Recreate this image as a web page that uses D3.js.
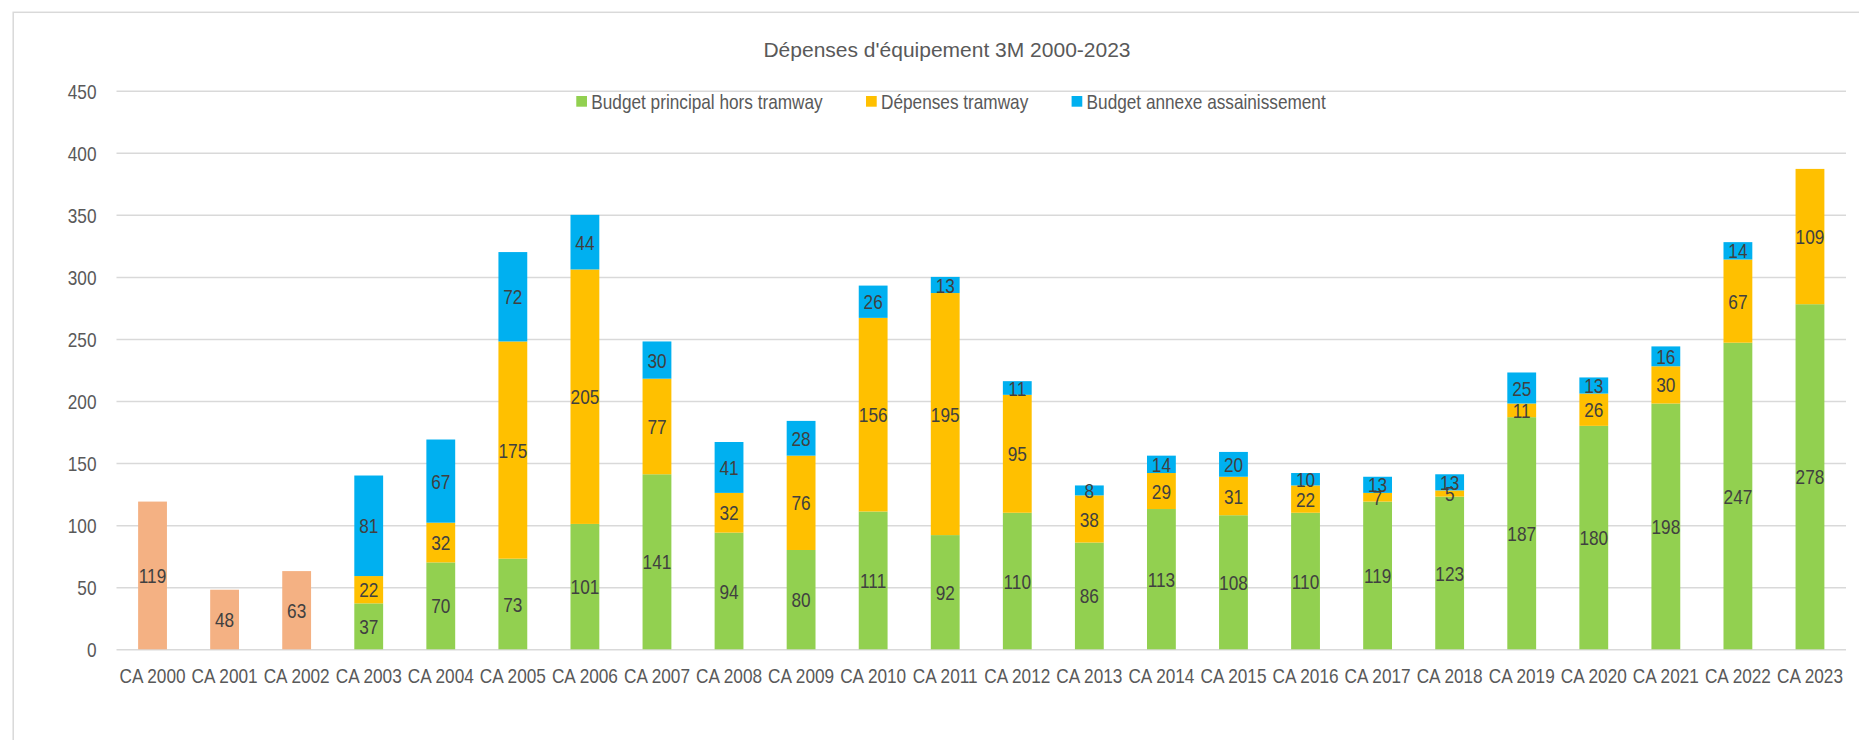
<!DOCTYPE html>
<html>
<head>
<meta charset="utf-8">
<script src="https://cdn.jsdelivr.net/npm/d3@7"></script>
<style>
html,body{margin:0;padding:0;background:#fff;}
svg{display:block;}
</style>
</head>
<body>
<svg id="chart" width="1859" height="740"></svg>
<script>
// ---------- DATA ----------
const categories = ["CA 2000","CA 2001","CA 2002","CA 2003","CA 2004","CA 2005","CA 2006","CA 2007","CA 2008","CA 2009","CA 2010","CA 2011","CA 2012","CA 2013","CA 2014","CA 2015","CA 2016","CA 2017","CA 2018","CA 2019","CA 2020","CA 2021","CA 2022","CA 2023"];
const budgetPrincipal = [null,null,null,37,70,73,101,141,94,80,111,92,110,86,113,108,110,119,123,187,180,198,247,278];
const depensesTramway = [null,null,null,22,32,175,205,77,32,76,156,195,95,38,29,31,22,7,5,11,26,30,67,109];
const budgetAssainissement = [null,null,null,81,67,72,44,30,41,28,26,13,11,8,14,20,10,13,13,25,13,16,14,null];
const totalAvant2003 = [119,48,63,null,null,null,null,null,null,null,null,null,null,null,null,null,null,null,null,null,null,null,null,null];
const seriesNames = ["Budget principal hors tramway","Dépenses tramway","Budget annexe assainissement"];
const yTicks = [0,50,100,150,200,250,300,350,400,450];
const title = "Dépenses d'équipement 3M 2000-2023";

// ---------- FONTS ----------
function hasFont(name){
  const ctx=document.createElement('canvas').getContext('2d');
  const s='CA 2000 Budget principal 0123456789';
  ctx.font='40px monospace'; const a=ctx.measureText(s).width;
  ctx.font=`40px "${name}", monospace`; const b=ctx.measureText(s).width;
  ctx.font='40px serif'; const c=ctx.measureText(s).width;
  ctx.font=`40px "${name}", serif`; const d=ctx.measureText(s).width;
  return a!==b || c!==d;
}
let NARROW, SX;
if (hasFont('Liberation Sans Narrow')) { NARROW='"Liberation Sans Narrow"'; SX=1; }
else if (hasFont('Arial Narrow')) { NARROW='"Arial Narrow"'; SX=1; }
else { NARROW='"Liberation Sans", Arial, sans-serif'; SX=0.82; }
const REG='"Liberation Sans", Arial, sans-serif';

function squeeze(sel){
  sel.each(function(){
    const t=d3.select(this);
    const x=+t.attr('x')||0, y=+t.attr('y')||0;
    t.attr('x',0).attr('y',0).attr('transform',`translate(${x},${y}) scale(${SX},1)`);
  });
}

// ---------- CHART ----------
const W=1859, H=740;
const svg=d3.select('#chart');
svg.append('rect').attr('x',0).attr('y',0).attr('width',W).attr('height',H).attr('fill','#fff');
// outer chart border (only top/left visible)
svg.append('rect').attr('x',13.2).attr('y',12.3).attr('width',W).attr('height',H)
  .attr('fill','none').attr('stroke','#d9d9d9').attr('stroke-width',1.5);

const plotL=116.5, plotR=1846, yTop=90.7, yBot=649.3;
const x=d3.scaleBand().domain(categories).range([plotL,plotR]).paddingInner(0.6).paddingOuter(0.3);
const y=d3.scaleLinear().domain([0,450]).range([yBot,yTop]);

// y axis with gridlines
const gy=svg.append('g').attr('transform',`translate(${plotL},0)`)
  .call(d3.axisLeft(y).tickValues(yTicks).tickSize(-(plotR-plotL)).tickPadding(20));
gy.select('.domain').remove();
gy.selectAll('.tick line').attr('stroke','#d9d9d9').attr('stroke-width',1.5);
gy.selectAll('.tick text').attr('fill','#595959').style('font-family',NARROW).style('font-size','21px')
  .attr('dy','0.36em');
squeeze(gy.selectAll('.tick text'));

// colors
const colors={principal:'#92D050',tramway:'#FFC000',assain:'#00B0F0',total:'#F4B183'};
const keys=['principal','tramway','assain','total'];
const rows=categories.map((c,i)=>({cat:c,principal:budgetPrincipal[i],tramway:depensesTramway[i],assain:budgetAssainissement[i],total:totalAvant2003[i]}));
const stack=d3.stack().keys(keys).value((d,k)=>d[k]==null?0:d[k]);
const stacked=stack(rows);

const layers=svg.append('g').selectAll('g').data(stacked).join('g').attr('fill',d=>colors[d.key]);
layers.selectAll('rect').data(d=>d.map(s=>({s,key:d.key})).filter(o=>o.s.data[o.key]!=null))
  .join('rect')
  .attr('x',o=>x(o.s.data.cat))
  .attr('width',x.bandwidth())
  .attr('y',o=>y(o.s[1]))
  .attr('height',o=>y(o.s[0])-y(o.s[1]));

// x axis line (0) drawn by gridline; category labels
const gx=svg.append('g').attr('transform',`translate(0,${yBot})`)
  .call(d3.axisBottom(x).tickSize(0).tickPadding(0));
gx.select('.domain').remove();
gx.selectAll('.tick text').attr('fill','#595959').style('font-family',NARROW).style('font-size','21px')
  .attr('y',33.4).attr('dy',0);
squeeze(gx.selectAll('.tick text'));

// data labels
const lab=svg.append('g');
stacked.forEach(layer=>{
  layer.forEach(s=>{
    const v=s.data[layer.key];
    if(v==null) return;
    lab.append('text')
      .attr('x',x(s.data.cat)+x.bandwidth()/2)
      .attr('y',y((s[0]+s[1])/2))
      .attr('dy','0.36em')
      .attr('text-anchor','middle')
      .attr('fill','#404040')
      .style('font-family',NARROW).style('font-size','21px')
      .text(v);
  });
});
squeeze(lab.selectAll('text'));

// title
svg.append('text').attr('x',947).attr('y',56.7).attr('text-anchor','middle')
  .attr('fill','#595959').style('font-family',REG).style('font-size','21px').text(title);

// legend
const legCols=[colors.principal,colors.tramway,colors.assain];
const leg=svg.append('g');
const items=seriesNames.map((n,i)=>{
  const g=leg.append('g');
  g.append('rect').attr('width',10.7).attr('height',10.7).attr('y',96).attr('fill',legCols[i]);
  const t=g.append('text').attr('x',15).attr('y',108.5).attr('fill','#595959')
    .style('font-family',NARROW).style('font-size','21px').text(n);
  squeeze(t);
  const w=15+t.node().getComputedTextLength()*SX;
  return {g,w};
});
const gap=43.3;
const total=d3.sum(items,d=>d.w)+gap*(items.length-1);
let cx=951-total/2;
items.forEach(it=>{ it.g.attr('transform',`translate(${cx},0)`); cx+=it.w+gap; });
</script>
</body>
</html>
